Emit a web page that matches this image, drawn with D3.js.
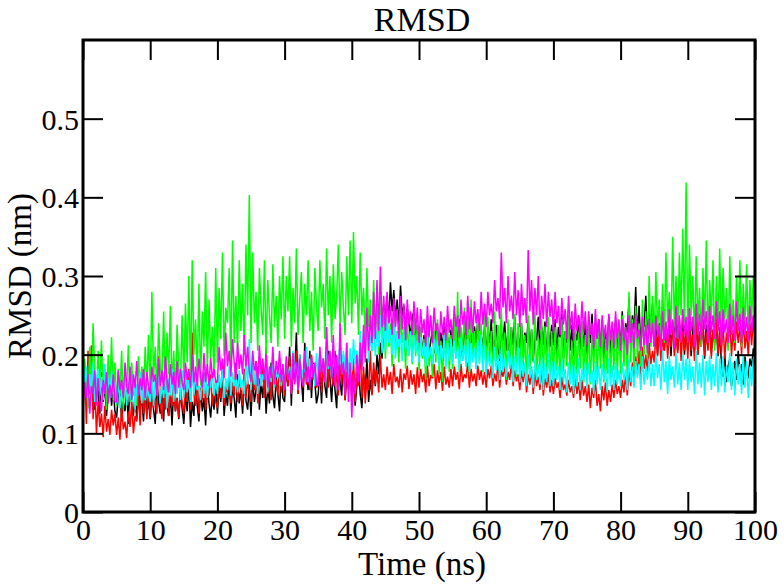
<!DOCTYPE html>
<html>
<head>
<meta charset="utf-8">
<script src="https://cdn.jsdelivr.net/npm/d3@7"></script>
<style>
  body { margin: 0; background: #fff; }
</style>
</head>
<body>
<svg id="chart"></svg>
<script>
// Sampling of every series (ns)
const timeStep = 0.25;
const timeMax = 100;

// RMSD values (nm), one every 0.25 ns from 0 to 100 ns (one row = 5 ns)
const black = [
  0.150,0.172,0.138,0.185,0.160,0.197,0.142,0.130,0.168,0.155,0.125,0.178,0.140,0.162,0.122,0.150,0.170,0.135,0.158,0.128,
  0.120,0.148,0.162,0.115,0.140,0.128,0.155,0.112,0.170,0.135,0.122,0.150,0.118,0.160,0.132,0.145,0.115,0.158,0.125,0.142,
  0.118,0.152,0.130,0.112,0.165,0.140,0.125,0.158,0.115,0.170,0.135,0.122,0.148,0.110,0.160,0.128,0.145,0.118,0.155,0.132,
  0.112,0.150,0.128,0.165,0.108,0.140,0.122,0.172,0.135,0.115,0.158,0.128,0.145,0.110,0.162,0.138,0.120,0.150,0.130,0.168,
  0.125,0.160,0.140,0.178,0.122,0.150,0.135,0.170,0.128,0.158,0.145,0.120,0.175,0.138,0.155,0.125,0.168,0.142,0.130,0.162,
  0.122,0.170,0.140,0.155,0.185,0.130,0.165,0.145,0.178,0.125,0.160,0.138,0.190,0.148,0.132,0.172,0.150,0.128,0.180,0.145,
  0.140,0.185,0.160,0.210,0.135,0.195,0.175,0.228,0.150,0.200,0.168,0.140,0.215,0.180,0.155,0.205,0.145,0.190,0.165,0.138,
  0.150,0.180,0.138,0.195,0.160,0.145,0.205,0.170,0.140,0.185,0.155,0.132,0.190,0.165,0.148,0.200,0.142,0.175,0.158,0.185,
  0.145,0.170,0.135,0.160,0.185,0.150,0.132,0.175,0.155,0.195,0.140,0.168,0.150,0.182,0.160,0.200,0.175,0.215,0.195,0.235,
  0.250,0.275,0.240,0.292,0.255,0.282,0.245,0.270,0.235,0.288,0.250,0.262,0.230,0.258,0.240,0.222,0.252,0.215,0.238,0.210,
  0.205,0.235,0.198,0.225,0.212,0.242,0.195,0.218,0.230,0.202,0.240,0.215,0.192,0.228,0.208,0.238,0.200,0.222,0.195,0.232,
  0.210,0.238,0.200,0.225,0.245,0.212,0.195,0.232,0.218,0.240,0.205,0.228,0.198,0.236,0.215,0.245,0.202,0.225,0.210,0.235,
  0.200,0.232,0.215,0.245,0.198,0.222,0.238,0.208,0.192,0.230,0.218,0.242,0.205,0.228,0.195,0.235,0.212,0.248,0.200,0.225,
  0.208,0.240,0.198,0.228,0.215,0.245,0.202,0.232,0.192,0.225,0.218,0.248,0.205,0.236,0.212,0.242,0.198,0.230,0.210,0.238,
  0.212,0.245,0.200,0.235,0.222,0.252,0.195,0.230,0.215,0.248,0.205,0.238,0.198,0.228,0.218,0.250,0.202,0.235,0.210,0.242,
  0.200,0.238,0.215,0.252,0.198,0.230,0.220,0.245,0.205,0.235,0.195,0.228,0.212,0.248,0.202,0.236,0.218,0.242,0.208,0.232,
  0.215,0.255,0.205,0.240,0.228,0.270,0.210,0.250,0.232,0.286,0.220,0.262,0.208,0.245,0.235,0.275,0.218,0.258,0.225,0.265,
  0.210,0.250,0.200,0.240,0.222,0.258,0.205,0.235,0.215,0.252,0.198,0.242,0.218,0.260,0.205,0.238,0.212,0.248,0.200,0.232,
  0.205,0.242,0.198,0.236,0.215,0.250,0.200,0.230,0.212,0.245,0.195,0.238,0.208,0.248,0.202,0.232,0.215,0.240,0.198,0.228,
  0.190,0.172,0.200,0.165,0.185,0.195,0.160,0.178,0.192,0.168,0.205,0.175,0.188,0.162,0.198,0.180,0.170,0.195,0.185,0.208,
  0.200
];
const red = [
  0.130,0.185,0.112,0.205,0.150,0.212,0.118,0.165,0.100,0.140,0.108,0.125,0.095,0.135,0.102,0.118,0.098,0.130,0.110,0.125,
  0.098,0.120,0.092,0.135,0.105,0.115,0.094,0.128,0.108,0.140,0.100,0.122,0.115,0.150,0.110,0.170,0.125,0.145,0.118,0.158,
  0.120,0.160,0.132,0.145,0.125,0.198,0.138,0.118,0.155,0.130,0.168,0.122,0.150,0.135,0.172,0.128,0.145,0.120,0.160,0.138,
  0.125,0.165,0.140,0.182,0.130,0.228,0.150,0.135,0.170,0.125,0.158,0.142,0.178,0.130,0.162,0.148,0.175,0.135,0.155,0.140,
  0.132,0.170,0.145,0.188,0.135,0.160,0.150,0.178,0.138,0.165,0.148,0.190,0.140,0.172,0.155,0.135,0.182,0.145,0.168,0.150,
  0.140,0.178,0.155,0.192,0.138,0.170,0.160,0.185,0.145,0.210,0.150,0.175,0.142,0.188,0.158,0.168,0.148,0.195,0.152,0.175,
  0.148,0.185,0.160,0.198,0.152,0.178,0.165,0.205,0.150,0.190,0.170,0.158,0.195,0.162,0.182,0.155,0.200,0.168,0.185,0.158,
  0.165,0.198,0.152,0.185,0.170,0.210,0.158,0.192,0.175,0.160,0.205,0.168,0.148,0.188,0.162,0.195,0.142,0.178,0.155,0.185,
  0.150,0.195,0.140,0.178,0.160,0.210,0.145,0.185,0.138,0.170,0.155,0.205,0.148,0.190,0.162,0.180,0.152,0.198,0.158,0.175,
  0.155,0.185,0.162,0.178,0.150,0.188,0.165,0.172,0.158,0.182,0.152,0.176,0.168,0.186,0.156,0.180,0.162,0.175,0.150,0.184,
  0.158,0.182,0.165,0.176,0.152,0.186,0.160,0.174,0.170,0.188,0.156,0.180,0.164,0.178,0.154,0.185,0.162,0.172,0.158,0.182,
  0.160,0.185,0.168,0.178,0.156,0.188,0.165,0.175,0.170,0.190,0.158,0.182,0.166,0.176,0.160,0.186,0.168,0.180,0.162,0.178,
  0.158,0.182,0.170,0.186,0.160,0.176,0.166,0.188,0.158,0.180,0.172,0.185,0.162,0.178,0.168,0.190,0.160,0.180,0.166,0.175,
  0.155,0.180,0.165,0.185,0.152,0.175,0.162,0.182,0.150,0.178,0.160,0.172,0.155,0.185,0.148,0.170,0.158,0.176,0.152,0.168,
  0.150,0.170,0.158,0.165,0.145,0.172,0.155,0.162,0.148,0.168,0.152,0.160,0.145,0.170,0.150,0.165,0.142,0.168,0.148,0.160,
  0.140,0.162,0.132,0.158,0.145,0.168,0.135,0.150,0.128,0.160,0.142,0.165,0.135,0.155,0.140,0.162,0.145,0.168,0.150,0.160,
  0.145,0.168,0.152,0.175,0.148,0.180,0.160,0.190,0.165,0.198,0.175,0.205,0.170,0.210,0.182,0.200,0.178,0.215,0.188,0.205,
  0.190,0.225,0.198,0.235,0.192,0.220,0.205,0.240,0.195,0.228,0.210,0.238,0.198,0.222,0.202,0.245,0.192,0.230,0.205,0.236,
  0.195,0.238,0.205,0.225,0.192,0.245,0.200,0.230,0.210,0.242,0.198,0.228,0.205,0.240,0.195,0.232,0.212,0.246,0.200,0.235,
  0.202,0.240,0.195,0.228,0.210,0.248,0.198,0.232,0.205,0.242,0.215,0.236,0.200,0.245,0.208,0.230,0.198,0.240,0.212,0.248,
  0.220
];
const green = [
  0.140,0.195,0.165,0.132,0.210,0.150,0.240,0.175,0.138,0.205,0.160,0.218,0.145,0.185,0.130,0.200,0.155,0.222,0.142,0.190,
  0.135,0.182,0.150,0.205,0.130,0.175,0.158,0.212,0.140,0.190,0.148,0.170,0.135,0.198,0.155,0.185,0.142,0.210,0.160,0.225,
  0.155,0.280,0.170,0.210,0.148,0.240,0.185,0.165,0.255,0.150,0.228,0.175,0.262,0.158,0.205,0.145,0.238,0.180,0.160,0.250,
  0.170,0.265,0.190,0.300,0.165,0.320,0.200,0.245,0.175,0.290,0.160,0.255,0.210,0.305,0.180,0.270,0.195,0.235,0.172,0.310,
  0.190,0.285,0.220,0.330,0.198,0.260,0.240,0.310,0.185,0.345,0.215,0.275,0.205,0.320,0.230,0.290,0.200,0.340,0.250,0.403,
  0.215,0.330,0.240,0.280,0.205,0.310,0.260,0.225,0.320,0.200,0.295,0.250,0.215,0.315,0.235,0.275,0.210,0.300,0.245,0.325,
  0.220,0.300,0.255,0.325,0.210,0.285,0.240,0.335,0.225,0.270,0.305,0.215,0.290,0.250,0.320,0.230,0.280,0.205,0.310,0.260,
  0.230,0.320,0.260,0.290,0.220,0.335,0.250,0.300,0.215,0.315,0.245,0.275,0.340,0.235,0.305,0.260,0.225,0.325,0.250,0.345,
  0.240,0.356,0.265,0.300,0.225,0.330,0.250,0.285,0.215,0.310,0.235,0.270,0.205,0.295,0.225,0.260,0.200,0.280,0.215,0.250,
  0.195,0.255,0.210,0.240,0.185,0.262,0.205,0.230,0.190,0.250,0.215,0.235,0.182,0.245,0.200,0.228,0.188,0.258,0.198,0.238,
  0.180,0.235,0.195,0.220,0.168,0.240,0.185,0.210,0.172,0.230,0.190,0.245,0.175,0.218,0.165,0.228,0.188,0.238,0.178,0.225,
  0.182,0.245,0.195,0.280,0.178,0.235,0.205,0.260,0.185,0.250,0.175,0.270,0.198,0.230,0.182,0.255,0.190,0.240,0.178,0.252,
  0.175,0.248,0.190,0.230,0.170,0.255,0.185,0.238,0.195,0.260,0.178,0.228,0.168,0.245,0.188,0.235,0.180,0.252,0.172,0.240,
  0.170,0.240,0.185,0.225,0.165,0.250,0.180,0.232,0.190,0.255,0.172,0.220,0.182,0.245,0.168,0.236,0.178,0.248,0.165,0.230,
  0.168,0.235,0.180,0.222,0.162,0.245,0.178,0.230,0.185,0.250,0.170,0.218,0.160,0.238,0.175,0.228,0.182,0.242,0.165,0.225,
  0.170,0.238,0.162,0.225,0.178,0.248,0.168,0.230,0.182,0.242,0.165,0.220,0.175,0.250,0.168,0.232,0.180,0.245,0.172,0.235,
  0.175,0.250,0.185,0.235,0.170,0.280,0.190,0.245,0.180,0.262,0.195,0.240,0.185,0.270,0.200,0.255,0.195,0.300,0.210,0.275,
  0.210,0.305,0.230,0.270,0.220,0.290,0.215,0.330,0.240,0.280,0.225,0.350,0.235,0.300,0.220,0.330,0.250,0.360,0.240,0.419,
  0.225,0.340,0.250,0.300,0.215,0.325,0.240,0.285,0.210,0.310,0.235,0.345,0.220,0.295,0.245,0.320,0.205,0.300,0.230,0.335,
  0.220,0.310,0.245,0.285,0.205,0.325,0.235,0.270,0.215,0.300,0.240,0.320,0.210,0.290,0.230,0.315,0.220,0.295,0.245,0.300,
  0.260
];
const cyan = [
  0.195,0.160,0.185,0.145,0.175,0.152,0.190,0.140,0.168,0.182,0.148,0.172,0.142,0.188,0.155,0.170,0.145,0.180,0.150,0.165,
  0.138,0.170,0.132,0.158,0.145,0.180,0.135,0.165,0.150,0.140,0.175,0.130,0.162,0.148,0.178,0.138,0.168,0.142,0.160,0.150,
  0.140,0.175,0.135,0.168,0.152,0.185,0.138,0.160,0.145,0.178,0.132,0.170,0.148,0.182,0.140,0.165,0.150,0.175,0.142,0.180,
  0.145,0.178,0.152,0.168,0.140,0.182,0.148,0.172,0.155,0.160,0.142,0.175,0.150,0.185,0.145,0.170,0.158,0.178,0.148,0.165,
  0.150,0.175,0.158,0.182,0.145,0.170,0.155,0.185,0.148,0.178,0.160,0.172,0.152,0.180,0.158,0.168,0.150,0.190,0.162,0.220,
  0.155,0.190,0.162,0.180,0.150,0.198,0.160,0.175,0.168,0.192,0.152,0.185,0.165,0.195,0.158,0.178,0.170,0.190,0.160,0.182,
  0.158,0.195,0.170,0.185,0.162,0.205,0.175,0.190,0.155,0.200,0.168,0.182,0.178,0.210,0.165,0.195,0.172,0.188,0.160,0.202,
  0.170,0.205,0.178,0.195,0.165,0.215,0.182,0.200,0.172,0.212,0.168,0.198,0.185,0.220,0.175,0.205,0.180,0.215,0.170,0.208,
  0.180,0.220,0.188,0.205,0.175,0.230,0.195,0.215,0.200,0.245,0.190,0.225,0.205,0.240,0.198,0.232,0.210,0.250,0.202,0.238,
  0.205,0.248,0.215,0.232,0.200,0.240,0.195,0.228,0.210,0.225,0.192,0.235,0.205,0.220,0.198,0.230,0.190,0.225,0.202,0.218,
  0.190,0.222,0.198,0.215,0.185,0.225,0.195,0.210,0.188,0.220,0.200,0.218,0.185,0.212,0.195,0.225,0.182,0.215,0.192,0.220,
  0.188,0.218,0.195,0.210,0.180,0.222,0.192,0.212,0.185,0.220,0.178,0.215,0.190,0.208,0.182,0.218,0.188,0.225,0.180,0.212,
  0.175,0.205,0.185,0.198,0.170,0.210,0.180,0.200,0.168,0.208,0.178,0.195,0.172,0.205,0.182,0.200,0.165,0.198,0.175,0.210,
  0.165,0.198,0.172,0.190,0.160,0.200,0.170,0.185,0.158,0.195,0.168,0.188,0.162,0.198,0.155,0.190,0.165,0.202,0.160,0.192,
  0.160,0.192,0.168,0.185,0.155,0.195,0.165,0.182,0.152,0.190,0.162,0.188,0.150,0.185,0.160,0.195,0.155,0.182,0.165,0.190,
  0.158,0.190,0.165,0.180,0.150,0.192,0.162,0.185,0.155,0.188,0.168,0.182,0.152,0.195,0.160,0.186,0.155,0.190,0.162,0.180,
  0.160,0.190,0.168,0.182,0.155,0.195,0.165,0.185,0.158,0.192,0.170,0.188,0.155,0.198,0.162,0.185,0.168,0.195,0.160,0.188,
  0.160,0.200,0.170,0.188,0.155,0.205,0.165,0.192,0.150,0.198,0.168,0.185,0.158,0.202,0.162,0.190,0.155,0.200,0.168,0.195,
  0.155,0.195,0.165,0.185,0.150,0.205,0.162,0.190,0.158,0.200,0.148,0.192,0.165,0.198,0.155,0.188,0.160,0.202,0.152,0.195,
  0.160,0.198,0.152,0.185,0.165,0.202,0.155,0.190,0.148,0.195,0.162,0.188,0.150,0.200,0.158,0.192,0.145,0.185,0.160,0.195,
  0.170
];
const magenta = [
  0.130,0.165,0.145,0.175,0.125,0.160,0.150,0.180,0.135,0.170,0.142,0.128,0.168,0.150,0.178,0.138,0.162,0.145,0.175,0.140,
  0.140,0.180,0.155,0.168,0.145,0.190,0.160,0.150,0.185,0.142,0.175,0.158,0.192,0.148,0.170,0.155,0.182,0.145,0.178,0.160,
  0.150,0.185,0.165,0.175,0.148,0.195,0.160,0.180,0.155,0.198,0.168,0.152,0.188,0.162,0.178,0.150,0.192,0.158,0.182,0.165,
  0.155,0.190,0.168,0.180,0.158,0.200,0.165,0.185,0.160,0.195,0.172,0.158,0.202,0.165,0.188,0.160,0.196,0.170,0.182,0.165,
  0.165,0.210,0.180,0.195,0.170,0.228,0.185,0.205,0.172,0.220,0.190,0.168,0.215,0.182,0.200,0.175,0.225,0.185,0.210,0.178,
  0.165,0.205,0.180,0.190,0.160,0.212,0.175,0.195,0.168,0.200,0.158,0.185,0.170,0.210,0.162,0.192,0.175,0.205,0.165,0.188,
  0.155,0.198,0.168,0.180,0.150,0.202,0.162,0.190,0.155,0.195,0.170,0.160,0.205,0.165,0.185,0.158,0.198,0.170,0.190,0.162,
  0.160,0.210,0.175,0.195,0.165,0.235,0.185,0.205,0.170,0.225,0.160,0.200,0.155,0.240,0.175,0.190,0.148,0.215,0.140,0.190,
  0.120,0.175,0.150,0.200,0.165,0.215,0.180,0.238,0.190,0.260,0.205,0.250,0.215,0.280,0.220,0.295,0.230,0.312,0.235,0.275,
  0.230,0.280,0.240,0.262,0.225,0.272,0.235,0.258,0.220,0.275,0.232,0.265,0.218,0.270,0.238,0.255,0.225,0.268,0.230,0.260,
  0.215,0.258,0.228,0.245,0.210,0.262,0.222,0.250,0.215,0.260,0.230,0.240,0.212,0.255,0.225,0.248,0.218,0.262,0.228,0.245,
  0.220,0.262,0.235,0.250,0.222,0.270,0.238,0.255,0.225,0.275,0.232,0.260,0.228,0.268,0.240,0.258,0.230,0.280,0.238,0.265,
  0.235,0.280,0.250,0.265,0.240,0.295,0.255,0.272,0.245,0.330,0.260,0.285,0.240,0.300,0.255,0.275,0.245,0.305,0.250,0.282,
  0.235,0.290,0.250,0.272,0.240,0.333,0.255,0.295,0.238,0.285,0.250,0.300,0.232,0.275,0.245,0.290,0.235,0.280,0.248,0.270,
  0.228,0.280,0.240,0.262,0.225,0.272,0.238,0.258,0.220,0.275,0.232,0.255,0.218,0.265,0.230,0.250,0.222,0.268,0.228,0.255,
  0.212,0.255,0.225,0.240,0.208,0.258,0.220,0.245,0.210,0.250,0.222,0.238,0.205,0.252,0.218,0.242,0.208,0.255,0.220,0.245,
  0.205,0.245,0.218,0.235,0.200,0.250,0.215,0.240,0.208,0.252,0.220,0.232,0.205,0.248,0.212,0.238,0.202,0.245,0.215,0.240,
  0.210,0.248,0.222,0.238,0.205,0.255,0.218,0.242,0.212,0.258,0.225,0.245,0.208,0.262,0.220,0.250,0.215,0.258,0.225,0.248,
  0.215,0.260,0.230,0.248,0.210,0.265,0.225,0.252,0.218,0.270,0.232,0.255,0.215,0.262,0.228,0.250,0.220,0.268,0.230,0.255,
  0.212,0.258,0.228,0.245,0.215,0.265,0.225,0.250,0.218,0.268,0.230,0.252,0.215,0.260,0.225,0.248,0.218,0.262,0.228,0.250,
  0.230
];

// Drawing order: last one ends up on top
const seriesNames = ["black", "red", "green", "cyan", "magenta"];
const seriesValues = [black, red, green, cyan, magenta];
const seriesColors = ["#000000", "#ff0000", "#00ff00", "#00ffff", "#ff00ff"];

const xTicks = [0, 10, 20, 30, 40, 50, 60, 70, 80, 90, 100];
const yTicks = [0, 0.1, 0.2, 0.3, 0.4, 0.5];

const serif = "'Liberation Serif', 'Times New Roman', Times, serif";

// Size of chart svg
var width = 784;
var height = 584;
var margin = {top: 40, right: 29, bottom: 72, left: 83};

const svg = d3.select("#chart")
    .attr("width", width)
    .attr("height", height);

const x = d3.scaleLinear()
    .domain([0, timeMax])
    .range([margin.left, width - margin.right]);

const y = d3.scaleLinear()
    .domain([0, 0.6])
    .range([height - margin.bottom, margin.top]);

svg.append("clipPath")
    .attr("id", "plot-clip")
    .append("rect")
    .attr("x", x(0))
    .attr("y", y(0.6))
    .attr("width", x(timeMax) - x(0))
    .attr("height", y(0) - y(0.6));

const line = d3.line()
    .x((d, i) => x(i * timeStep))
    .y(d => y(d));

svg.append("g")
    .attr("clip-path", "url(#plot-clip)")
    .selectAll("path")
    .data(seriesValues)
    .join("path")
    .attr("class", (d, i) => "series " + seriesNames[i])
    .attr("fill", "none")
    .attr("stroke", (d, i) => seriesColors[i])
    .attr("stroke-width", 1.5)
    .attr("stroke-linejoin", "bevel")
    .attr("d", line);

// Inward ticks on all four sides, grace style
const tickLen = 20;
const tickStyle = g => g.select(".domain").remove();

svg.append("g")
    .attr("transform", `translate(0,${y(0)})`)
    .call(d3.axisBottom(x).tickValues(xTicks).tickSizeInner(-tickLen).tickSizeOuter(0).tickFormat(d3.format("d")))
    .call(tickStyle)
    .call(g => g.selectAll("line").attr("stroke-width", 2))
    .call(g => g.selectAll("text").style("font-family", serif).style("font-size", "30px")
        .attr("dy", null).attr("y", 28));

svg.append("g")
    .attr("transform", `translate(0,${y(0.6)})`)
    .call(d3.axisTop(x).tickValues(xTicks).tickSizeInner(-tickLen).tickSizeOuter(0).tickFormat(""))
    .call(tickStyle)
    .call(g => g.selectAll("line").attr("stroke-width", 2));

svg.append("g")
    .attr("transform", `translate(${x(0)},0)`)
    .call(d3.axisLeft(y).tickValues(yTicks).tickSizeInner(-tickLen).tickSizeOuter(0).tickFormat(d => d === 0 ? "0" : d3.format(".1f")(d)))
    .call(tickStyle)
    .call(g => g.selectAll("line").attr("stroke-width", 2))
    .call(g => g.selectAll("text").style("font-family", serif).style("font-size", "30px")
        .attr("x", -4).attr("dy", "0.35em"));

svg.append("g")
    .attr("transform", `translate(${x(timeMax)},0)`)
    .call(d3.axisRight(y).tickValues(yTicks).tickSizeInner(-tickLen).tickSizeOuter(0).tickFormat(""))
    .call(tickStyle)
    .call(g => g.selectAll("line").attr("stroke-width", 2));

// Frame
svg.append("rect")
    .attr("x", x(0))
    .attr("y", y(0.6))
    .attr("width", x(timeMax) - x(0))
    .attr("height", y(0) - y(0.6))
    .attr("fill", "none")
    .attr("stroke", "#000")
    .attr("stroke-width", 3);

// Titles
const cx = (x(0) + x(timeMax)) / 2 + 3;

svg.append("text")
    .attr("x", cx)
    .attr("y", 31)
    .attr("text-anchor", "middle")
    .style("font-family", serif)
    .style("font-size", "34px")
    .text("RMSD");

svg.append("text")
    .attr("x", cx)
    .attr("y", 575)
    .attr("text-anchor", "middle")
    .style("font-family", serif)
    .style("font-size", "33px")
    .text("Time (ns)");

svg.append("text")
    .attr("transform", `translate(31,${(y(0) + y(0.6)) / 2}) rotate(-90)`)
    .attr("text-anchor", "middle")
    .style("font-family", serif)
    .style("font-size", "33px")
    .text("RMSD (nm)");
</script>
</body>
</html>
